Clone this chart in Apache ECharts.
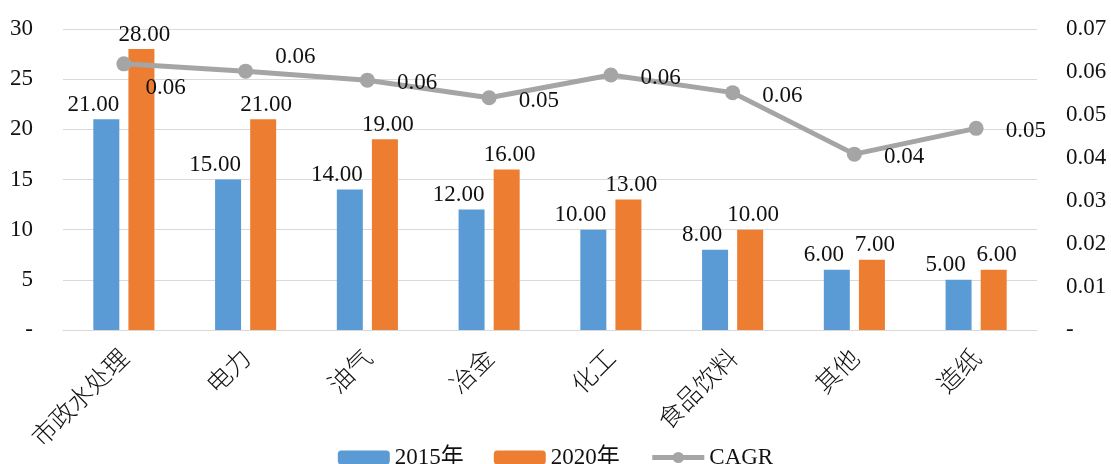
<!DOCTYPE html>
<html>
<head>
<meta charset="utf-8">
<script src="https://cdn.jsdelivr.net/npm/echarts@6/dist/echarts.min.js"></script>
<style>
    html, body { margin: 0; padding: 0; background: #fff; }
    #chart { width: 1111px; height: 464px; }
</style>
</head>
<body>
<div id="chart"></div>
<script>
// 行业分类
var categories = ['市政水处理', '电力', '油气', '冶金', '化工', '食品饮料', '其他', '造纸'];
var values2015 = [21, 15, 14, 12, 10, 8, 6, 5];
var values2020 = [28, 21, 19, 16, 13, 10, 7, 6];
var cagrValues = [0.0619, 0.0602, 0.0581, 0.0540, 0.0593, 0.0552, 0.0409, 0.0469];
var seriesNames = ['2015年', '2020年', 'CAGR'];

var fontFamily = '"Liberation Serif", "Noto Sans CJK SC", serif';
var textColor = '#111';
var labelSize = 23;

var myChart = echarts.init(document.getElementById('chart'));

// CAGR 标签位置微调（前两个点避让柱子标签）
var cagrData = cagrValues.map(function (v, i) {
    var item = { value: v };
    if (i === 0) item.label = { offset: [-8, 24] };
    if (i === 1) item.label = { offset: [0, -14] };
    return item;
});

var option = {
    animation: false,
    textStyle: { fontFamily: fontFamily },
    grid: {
        top: 29,
        left: 63,
        right: 74,
        bottom: 134
    },
    legend: {
        top: 441,
        left: 'center',
        itemWidth: 52,
        itemHeight: 14,
        itemGap: 30,
        textStyle: { fontSize: labelSize, color: textColor, fontFamily: fontFamily },
        data: [
            { name: seriesNames[0] },
            { name: seriesNames[1] },
            { name: seriesNames[2], lineStyle: { width: 5 } }
        ]
    },
    xAxis: {
        type: 'category',
        data: categories,
        axisLine: { lineStyle: { color: '#d9d9d9', width: 1 } },
        axisTick: { show: false },
        axisLabel: {
            rotate: 45,
            margin: 23,
            fontSize: 25,
            color: textColor,
            fontFamily: '"Noto Sans CJK SC", sans-serif',
            fontWeight: 300
        }
    },
    yAxis: [{
        type: 'value',
        min: 0,
        max: 30,
        interval: 5,
        axisLine: { show: false },
        axisTick: { show: false },
        axisLabel: {
            margin: 30,
            fontSize: labelSize,
            color: textColor,
            formatter: function (v) { return v === 0 ? '-' : v; }
        },
        splitLine: { lineStyle: { color: '#d9d9d9' } }
    }, {
        type: 'value',
        min: 0,
        max: 0.07,
        interval: 0.01,
        axisLine: { show: false },
        axisTick: { show: false },
        axisLabel: {
            margin: 29,
            fontSize: labelSize,
            color: textColor,
            formatter: function (v) { return v === 0 ? '-' : v.toFixed(2); }
        },
        splitLine: { show: false }
    }],
    series: [{
        name: seriesNames[0],
        type: 'bar',
        data: values2015,
        barWidth: 26,
        barGap: '35%',
        itemStyle: { color: '#5B9BD5' },
        label: {
            show: true,
            position: 'top',
            distance: 3,
            offset: [-13, 0],
            fontSize: labelSize,
            color: textColor,
            formatter: function (p) { return p.value.toFixed(2); }
        }
    }, {
        name: seriesNames[1],
        type: 'bar',
        data: values2020,
        barWidth: 26,
        itemStyle: { color: '#ED7D31' },
        label: {
            show: true,
            position: 'top',
            distance: 3,
            offset: [3, 0],
            fontSize: labelSize,
            color: textColor,
            formatter: function (p) { return p.value.toFixed(2); }
        }
    }, {
        name: seriesNames[2],
        type: 'line',
        yAxisIndex: 1,
        data: cagrData,
        symbol: 'circle',
        symbolSize: 15,
        itemStyle: { color: '#A5A5A5' },
        lineStyle: { color: '#A5A5A5', width: 5 },
        label: {
            show: true,
            position: 'right',
            distance: 22,
            offset: [0, 3],
            fontSize: labelSize,
            color: textColor,
            formatter: function (p) { return p.value.toFixed(2); }
        }
    }]
};

myChart.setOption(option);
</script>
</body>
</html>
